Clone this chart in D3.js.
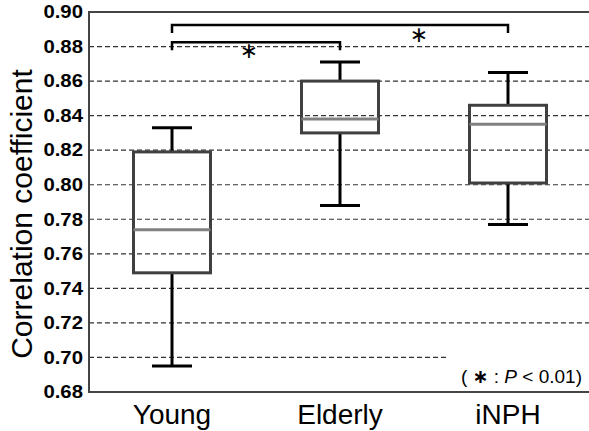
<!DOCTYPE html>
<html>
<head>
<meta charset="utf-8">
<script src="https://cdn.jsdelivr.net/npm/d3@7"></script>
<style>
  body { margin: 0; background: #fff; }
  svg { display: block; font-family: "Liberation Sans", Arial, sans-serif; }
</style>
</head>
<body>
<svg id="chart"></svg>
<script>
// values
const groups = ["Young", "Elderly", "iNPH"];
const whiskerLow = [0.695, 0.788, 0.777];
const q1 = [0.749, 0.830, 0.801];
const median = [0.774, 0.838, 0.835];
const q3 = [0.819, 0.860, 0.846];
const whiskerHigh = [0.833, 0.871, 0.865];
const yTicks = [0.68, 0.70, 0.72, 0.74, 0.76, 0.78, 0.80, 0.82, 0.84, 0.86, 0.88, 0.90];
const gridTicks = [0.70, 0.72, 0.74, 0.76, 0.78, 0.80, 0.82, 0.84, 0.86, 0.88];
// significance brackets: [from, to, level]
const brackets = [["Young", "Elderly", 0.8825], ["Young", "iNPH", 0.8925]];

const width = 589;
const height = 431;
const svg = d3.select("#chart").attr("width", width).attr("height", height);

const plotLeft = 89, plotRight = 589, plotTop = 12, plotBottom = 392;

const x = d3.scaleBand().domain(groups).range([88, 592]);
const y = d3.scaleLinear().domain([0.68, 0.90]).range([plotBottom, plotTop]);
const cx = g => x(g) + x.bandwidth() / 2;
const boxW = 77, capW = 40;

// dashed grid
svg.append("g")
  .selectAll("line")
  .data(gridTicks)
  .enter().append("line")
    .attr("x1", plotLeft)
    .attr("x2", d => d === 0.70 ? 447 : plotRight)
    .attr("y1", d => y(d))
    .attr("y2", d => y(d))
    .attr("stroke", "#333")
    .attr("stroke-width", 1.2)
    .attr("stroke-dasharray", "5,3");

// frame: left, top, bottom
svg.append("path")
  .attr("d", `M${plotRight},${plotTop}H${plotLeft}V${plotBottom}H${plotRight}`)
  .attr("fill", "none")
  .attr("stroke", "#444")
  .attr("stroke-width", 2);

// y tick labels
svg.append("g")
  .selectAll("text")
  .data(yTicks)
  .enter().append("text")
    .attr("x", 83)
    .attr("y", d => y(d))
    .attr("dy", "0.35em")
    .attr("text-anchor", "end")
    .attr("font-size", 18)
    .attr("font-weight", "bold")
    .attr("transform", `translate(${83 - 83 * 1.13},0) scale(1.13,1)`)
    .text(d => d.toFixed(2));

// y axis title
svg.append("text")
  .attr("transform", "translate(32,214) rotate(-90)")
  .attr("text-anchor", "middle")
  .attr("font-size", 30)
  .text("Correlation coefficient");

// x labels
svg.append("g")
  .selectAll("text")
  .data(groups)
  .enter().append("text")
    .attr("x", g => cx(g))
    .attr("y", 424)
    .attr("text-anchor", "middle")
    .attr("font-size", 28)
    .text(g => g);

// boxes
const box = svg.append("g")
  .selectAll("g")
  .data(groups)
  .enter().append("g");

box.append("line")
  .attr("x1", g => cx(g)).attr("x2", g => cx(g))
  .attr("y1", (g, i) => y(whiskerHigh[i])).attr("y2", (g, i) => y(q3[i]))
  .attr("stroke", "#000").attr("stroke-width", 3);
box.append("line")
  .attr("x1", g => cx(g)).attr("x2", g => cx(g))
  .attr("y1", (g, i) => y(q1[i])).attr("y2", (g, i) => y(whiskerLow[i]))
  .attr("stroke", "#000").attr("stroke-width", 3);
box.append("line")
  .attr("x1", g => cx(g) - capW / 2).attr("x2", g => cx(g) + capW / 2)
  .attr("y1", (g, i) => y(whiskerHigh[i])).attr("y2", (g, i) => y(whiskerHigh[i]))
  .attr("stroke", "#000").attr("stroke-width", 3);
box.append("line")
  .attr("x1", g => cx(g) - capW / 2).attr("x2", g => cx(g) + capW / 2)
  .attr("y1", (g, i) => y(whiskerLow[i])).attr("y2", (g, i) => y(whiskerLow[i]))
  .attr("stroke", "#000").attr("stroke-width", 3);
box.append("rect")
  .attr("x", g => cx(g) - boxW / 2)
  .attr("width", boxW)
  .attr("y", (g, i) => y(q3[i]))
  .attr("height", (g, i) => y(q1[i]) - y(q3[i]))
  .attr("fill", "none")
  .attr("stroke", "#404040")
  .attr("stroke-width", 3);
box.append("line")
  .attr("x1", g => cx(g) - boxW / 2).attr("x2", g => cx(g) + boxW / 2)
  .attr("y1", (g, i) => y(median[i])).attr("y2", (g, i) => y(median[i]))
  .attr("stroke", "#808080").attr("stroke-width", 3);

// significance brackets
const br = svg.append("g")
  .selectAll("g")
  .data(brackets)
  .enter().append("g");
br.append("path")
  .attr("d", d => {
    const yy = y(d[2]);
    return `M${cx(d[0])},${yy + 8}V${yy}H${cx(d[1])}V${yy + 8}`;
  })
  .attr("fill", "none")
  .attr("stroke", "#000")
  .attr("stroke-width", 2.5);

svg.append("text")
  .attr("x", 249).attr("y", 58)
  .attr("text-anchor", "middle")
  .attr("font-size", 22)
  .attr("font-family", "DejaVu Sans")
  .text("∗");
svg.append("text")
  .attr("x", 419).attr("y", 42)
  .attr("text-anchor", "middle")
  .attr("font-size", 22)
  .attr("font-family", "DejaVu Sans")
  .text("∗");

// p-value note
const note = svg.append("text")
  .attr("x", 582).attr("y", 383)
  .attr("text-anchor", "end")
  .attr("font-size", 19);
note.append("tspan").text("( ");
note.append("tspan").attr("font-family", "DejaVu Sans").attr("font-weight", "bold").text("∗");
note.append("tspan").text(" : ");
note.append("tspan").attr("font-style", "italic").text("P");
note.append("tspan").text(" < 0.01)");
</script>
</body>
</html>
